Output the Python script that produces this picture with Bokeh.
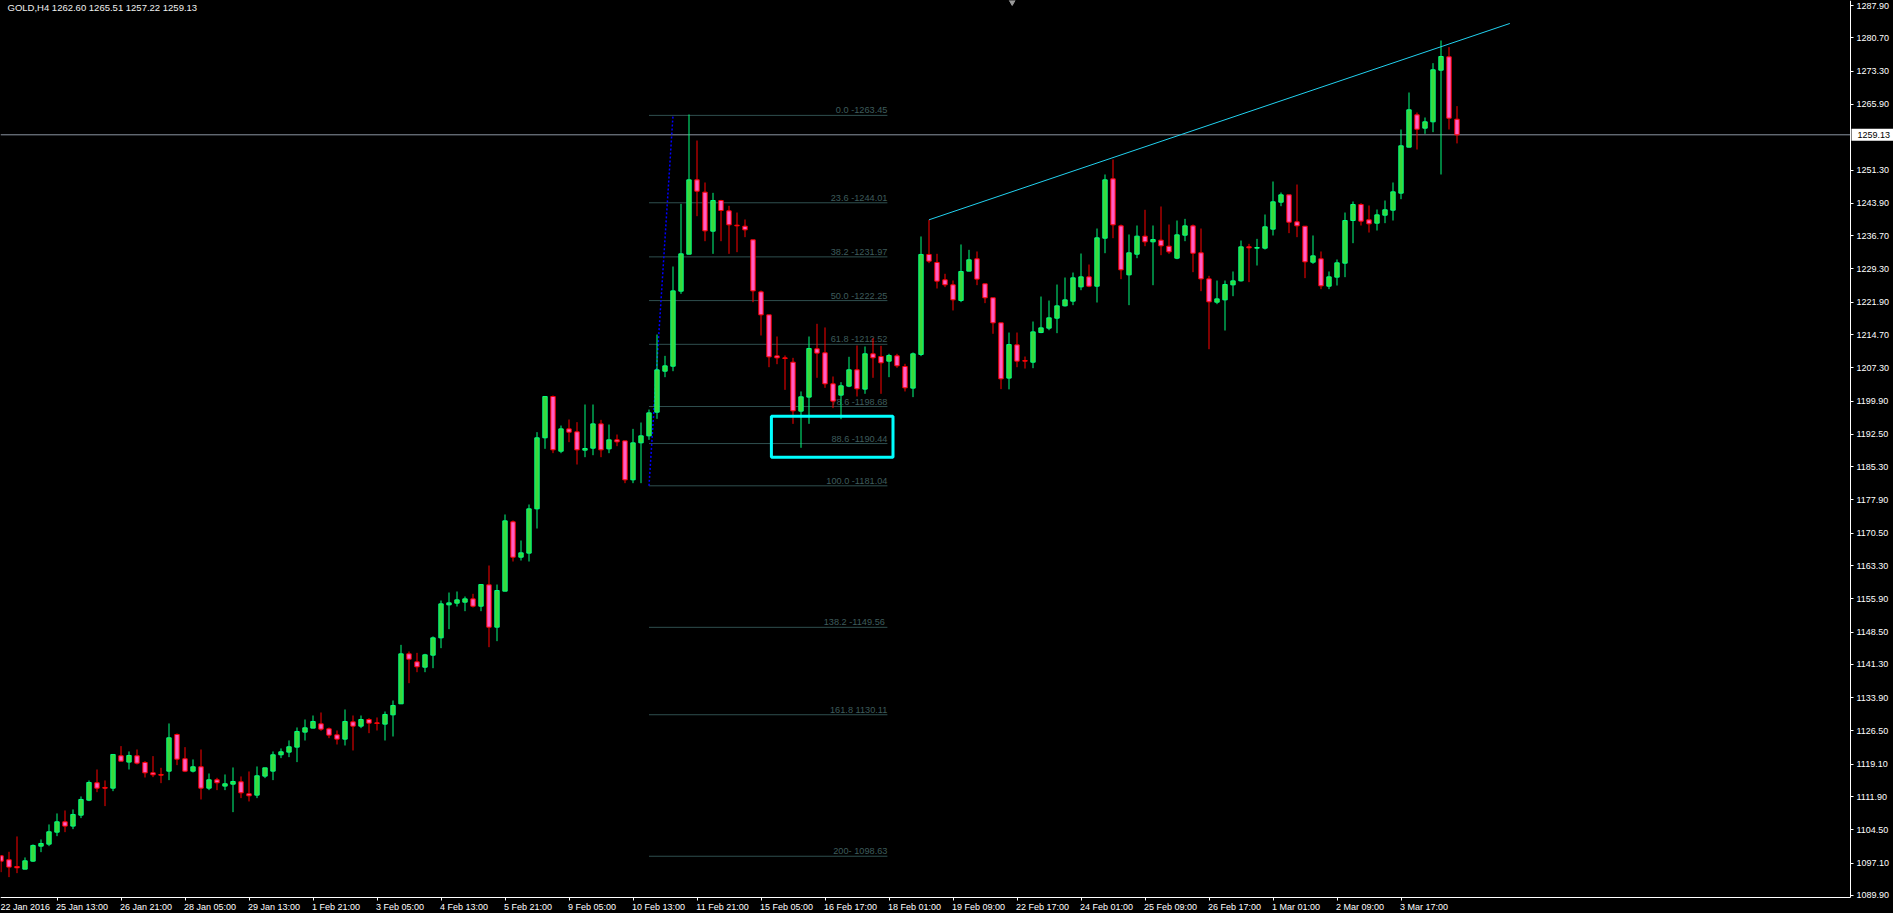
from bokeh.plotting import figure
from bokeh.models import (FixedTicker, NumeralTickFormatter, Label, Range1d, LinearAxis,
                          ColumnDataSource, GlobalInlineStyleSheet)
from bokeh.embed import file_html
from bokeh.resources import INLINE
from bokeh.core.properties import value

# ---------------- data (GOLD H4) ----------------
opens = [1098.73, 1097.84, 1096.35, 1095.76, 1097.54, 1100.88, 1101.32, 1103.99, 1106.29, 1105.33,
         1107.77, 1111.11, 1114.97, 1113.93, 1113.78, 1120.97, 1119.57, 1120.97, 1119.49, 1117.19,
         1116.82, 1117.56, 1125.72, 1120.31, 1117.56, 1118.53, 1113.78, 1115.63, 1114.23, 1114.67,
         1115.19, 1112.52, 1112.22, 1116.45, 1117.56, 1121.20, 1121.79, 1122.90, 1126.24, 1127.13,
         1128.09, 1126.98, 1125.64, 1124.68, 1128.53, 1127.57, 1129.05, 1128.31, 1128.02, 1130.09,
         1132.54, 1143.66, 1141.88, 1140.69, 1143.36, 1147.22, 1154.56, 1154.93, 1155.15, 1155.89,
         1154.26, 1159.01, 1149.59, 1157.60, 1173.03, 1165.16, 1166.06, 1175.92, 1191.72, 1200.91,
         1188.74, 1193.71, 1193.05, 1188.97, 1189.41, 1194.82, 1189.26, 1191.27, 1191.04, 1182.37,
         1190.60, 1192.16, 1197.42, 1206.54, 1207.65, 1224.34, 1232.57, 1249.11, 1246.37, 1237.69,
         1244.51, 1242.21, 1239.02, 1238.80, 1235.76, 1224.19, 1219.08, 1209.95, 1209.51, 1208.54,
         1197.65, 1200.77, 1211.52, 1210.63, 1203.73, 1201.21, 1203.21, 1206.85, 1202.55, 1210.41,
         1209.81, 1208.77, 1209.96, 1207.59, 1202.77, 1210.26, 1232.51, 1230.73, 1226.87, 1225.76,
         1222.27, 1228.80, 1231.54, 1225.98, 1222.87, 1217.30, 1205.00, 1212.40, 1208.92, 1208.54,
         1215.14, 1216.11, 1218.33, 1221.08, 1222.12, 1225.30, 1227.53, 1225.45, 1236.13, 1249.33,
         1238.87, 1227.97, 1232.57, 1236.58, 1235.32, 1235.69, 1234.35, 1231.68, 1236.80, 1238.87,
         1232.87, 1227.08, 1221.89, 1222.41, 1225.75, 1226.64, 1234.21, 1233.91, 1233.91, 1238.14,
         1244.14, 1245.77, 1239.77, 1238.80, 1230.79, 1231.54, 1225.45, 1227.46, 1230.57, 1240.06,
         1243.62, 1240.21, 1239.47, 1241.25, 1242.36, 1246.15, 1256.38, 1263.57, 1260.61, 1262.02,
         1273.51, 1276.48, 1262.60]
highs = [1098.90, 1099.62, 1103.03, 1098.36, 1101.25, 1102.36, 1105.70, 1108.15, 1108.81, 1109.04,
         1111.93, 1115.49, 1117.93, 1115.49, 1121.27, 1123.13, 1121.94, 1122.38, 1119.79, 1120.90,
         1118.30, 1128.17, 1125.94, 1122.90, 1120.16, 1122.38, 1117.04, 1116.08, 1116.82, 1118.38,
         1116.38, 1117.49, 1118.60, 1118.30, 1121.94, 1122.61, 1124.39, 1127.28, 1129.05, 1129.94,
         1130.61, 1127.27, 1126.61, 1131.28, 1129.94, 1129.94, 1129.35, 1129.50, 1130.83, 1133.28,
         1145.66, 1144.18, 1143.88, 1143.66, 1147.52, 1155.52, 1157.30, 1157.53, 1156.41, 1157.01,
         1159.08, 1163.31, 1159.08, 1174.66, 1173.32, 1168.87, 1176.88, 1192.98, 1200.91, 1201.13,
         1194.45, 1195.79, 1195.20, 1199.13, 1199.13, 1195.71, 1194.67, 1192.45, 1191.04, 1193.71,
         1195.12, 1198.01, 1214.70, 1209.95, 1229.83, 1243.77, 1263.65, 1257.86, 1248.52, 1246.22,
         1244.66, 1243.33, 1241.84, 1240.29, 1235.76, 1224.49, 1219.08, 1214.26, 1210.03, 1209.51,
         1202.03, 1214.26, 1217.08, 1216.27, 1205.36, 1204.10, 1209.74, 1212.26, 1212.04, 1213.89,
         1212.19, 1210.41, 1210.41, 1208.18, 1210.70, 1236.51, 1240.22, 1232.65, 1228.21, 1226.72,
         1234.73, 1233.54, 1233.17, 1225.98, 1222.87, 1217.30, 1215.14, 1215.14, 1209.80, 1217.59,
         1223.15, 1222.26, 1225.82, 1227.38, 1228.49, 1232.72, 1230.27, 1238.28, 1250.30, 1253.63,
         1239.17, 1236.95, 1238.95, 1242.44, 1238.95, 1243.18, 1239.17, 1240.06, 1240.43, 1239.17,
         1238.28, 1227.75, 1226.71, 1226.71, 1228.72, 1235.61, 1234.87, 1235.98, 1241.40, 1248.74,
         1246.29, 1245.77, 1248.07, 1238.80, 1236.73, 1233.17, 1228.72, 1231.39, 1241.84, 1244.29,
         1243.92, 1243.40, 1242.51, 1244.51, 1248.52, 1260.31, 1268.54, 1264.09, 1262.98, 1275.07,
         1280.11, 1278.63, 1265.51]
lows = [1095.09, 1093.98, 1094.87, 1095.76, 1097.39, 1099.54, 1100.88, 1103.10, 1103.99, 1104.66,
        1107.11, 1110.89, 1112.89, 1109.78, 1113.11, 1119.79, 1117.93, 1119.05, 1116.15, 1116.23,
        1114.89, 1115.56, 1118.90, 1117.34, 1117.27, 1111.26, 1113.34, 1113.34, 1113.34, 1108.44,
        1111.56, 1110.82, 1111.56, 1116.01, 1115.56, 1120.46, 1120.68, 1119.57, 1124.38, 1127.13,
        1126.53, 1124.90, 1123.49, 1123.27, 1122.16, 1127.13, 1126.01, 1126.61, 1124.38, 1125.27,
        1132.54, 1137.13, 1139.58, 1139.58, 1140.47, 1144.92, 1149.15, 1154.19, 1153.15, 1153.97,
        1153.15, 1145.14, 1146.48, 1157.60, 1164.20, 1164.42, 1164.20, 1171.54, 1189.27, 1188.31,
        1188.30, 1190.75, 1185.78, 1187.41, 1187.85, 1187.41, 1188.30, 1189.86, 1181.63, 1181.63,
        1181.63, 1191.27, 1195.94, 1205.21, 1206.54, 1223.75, 1232.57, 1241.03, 1235.46, 1232.65,
        1235.46, 1232.65, 1233.02, 1236.36, 1221.89, 1214.48, 1207.43, 1208.10, 1202.39, 1194.82,
        1189.50, 1194.83, 1205.07, 1202.84, 1198.32, 1195.87, 1202.99, 1200.91, 1201.51, 1205.07,
        1201.51, 1205.21, 1207.29, 1202.03, 1200.77, 1209.89, 1230.58, 1224.94, 1225.24, 1220.05,
        1221.90, 1228.80, 1225.68, 1221.68, 1214.86, 1202.55, 1202.50, 1207.43, 1207.13, 1207.21,
        1215.00, 1215.66, 1215.00, 1220.93, 1221.23, 1224.56, 1225.23, 1221.82, 1232.79, 1236.13,
        1227.01, 1221.23, 1231.68, 1234.35, 1225.67, 1232.35, 1232.65, 1231.46, 1235.46, 1228.57,
        1224.34, 1211.43, 1221.45, 1215.59, 1223.23, 1226.49, 1226.35, 1230.05, 1233.61, 1236.73,
        1243.25, 1237.25, 1236.36, 1227.24, 1230.42, 1224.79, 1224.79, 1225.60, 1227.46, 1235.02,
        1238.95, 1237.39, 1237.84, 1239.47, 1240.06, 1244.81, 1256.38, 1255.86, 1259.35, 1259.72,
        1250.30, 1260.31, 1257.22]
closes = [1097.54, 1096.21, 1096.06, 1097.61, 1101.03, 1101.47, 1104.07, 1106.29, 1105.33, 1107.92,
          1111.26, 1115.04, 1113.78, 1113.78, 1121.27, 1119.79, 1121.05, 1119.34, 1117.19, 1116.75,
          1116.67, 1124.98, 1120.23, 1117.56, 1118.53, 1113.78, 1115.63, 1114.97, 1114.75, 1115.26,
          1112.74, 1112.08, 1116.53, 1118.30, 1121.20, 1121.86, 1122.98, 1126.39, 1127.20, 1128.61,
          1126.90, 1125.57, 1124.68, 1128.61, 1127.57, 1129.05, 1128.24, 1128.16, 1130.17, 1132.17,
          1143.66, 1142.47, 1140.77, 1143.44, 1147.22, 1154.78, 1155.00, 1155.67, 1155.89, 1154.26,
          1159.08, 1149.59, 1157.75, 1173.25, 1165.16, 1166.13, 1175.92, 1191.72, 1200.91, 1189.05,
          1193.71, 1192.97, 1189.04, 1189.34, 1194.82, 1189.04, 1191.27, 1190.82, 1182.37, 1190.60,
          1192.16, 1197.27, 1206.84, 1207.73, 1224.41, 1232.65, 1249.11, 1246.59, 1237.76, 1244.51,
          1242.29, 1239.10, 1238.88, 1237.99, 1224.41, 1219.08, 1209.73, 1209.51, 1209.36, 1197.72,
          1200.84, 1211.59, 1210.56, 1203.73, 1199.88, 1203.29, 1206.85, 1202.62, 1210.41, 1209.52,
          1208.40, 1210.04, 1207.74, 1202.84, 1210.41, 1232.51, 1231.02, 1226.57, 1225.76, 1222.42,
          1228.72, 1231.32, 1227.02, 1222.87, 1217.30, 1204.84, 1212.47, 1208.77, 1208.77, 1215.29,
          1216.18, 1218.41, 1221.08, 1222.41, 1227.31, 1227.53, 1225.45, 1236.21, 1249.11, 1239.10,
          1229.09, 1232.87, 1236.58, 1235.32, 1235.83, 1234.43, 1233.09, 1236.87, 1238.87, 1232.79,
          1227.08, 1221.97, 1222.63, 1225.82, 1226.64, 1234.20, 1233.98, 1234.06, 1238.66, 1244.22,
          1245.77, 1239.69, 1238.88, 1230.87, 1232.20, 1225.53, 1227.53, 1230.65, 1240.06, 1243.62,
          1239.92, 1239.32, 1241.32, 1242.44, 1246.44, 1256.68, 1264.69, 1260.38, 1262.02, 1273.60,
          1276.55, 1262.83, 1259.13]
bar_index = list(range(len(opens)))

time_tick_bars = [-1, 7, 15, 23, 31, 39, 47, 55, 63, 71, 79, 87, 95, 103, 111, 119, 127, 135,
                  143, 151, 159, 167, 175]
time_tick_labels = ["22 Jan 2016", "25 Jan 13:00", "26 Jan 21:00", "28 Jan 05:00", "29 Jan 13:00",
                    "1 Feb 21:00", "3 Feb 05:00", "4 Feb 13:00", "5 Feb 21:00", "9 Feb 05:00",
                    "10 Feb 13:00", "11 Feb 21:00", "15 Feb 05:00", "16 Feb 17:00", "18 Feb 01:00",
                    "19 Feb 09:00", "22 Feb 17:00", "24 Feb 01:00", "25 Feb 09:00", "26 Feb 17:00",
                    "1 Mar 01:00", "2 Mar 09:00", "3 Mar 17:00"]
price_ticks = [1287.90, 1280.70, 1273.30, 1265.90, 1251.30, 1243.90, 1236.70, 1229.30, 1221.90,
               1214.70, 1207.30, 1199.90, 1192.50, 1185.30, 1177.90, 1170.50, 1163.30, 1155.90,
               1148.50, 1141.30, 1133.90, 1126.50, 1119.10, 1111.90, 1104.50, 1097.10, 1089.90]

header_text = "GOLD,H4  1262.60 1265.51 1257.22 1259.13"
last_price = 1259.13
chart_shift_bar = 126.4

fib_prices = [1263.45, 1244.01, 1231.97, 1222.25, 1212.52, 1198.68, 1190.44, 1181.04,
              1149.56, 1130.11, 1098.63]
fib_labels = ["0.0 -1263.45", "23.6 -1244.01", "38.2 -1231.97", "50.0 -1222.25", "61.8 -1212.52",
              "78.6 -1198.68", "88.6 -1190.44", "100.0 -1181.04", "138.2  -1149.56",
              "161.8 1130.11", "200- 1098.63"]
fib_bar_start, fib_bar_end = 81, 110.8
fib_anchor_bars = [81, 84]
fib_anchor_prices = [1181.04, 1263.45]

trend_bars = [116, 188.6]
trend_prices = [1240.22, 1283.9]

box_bars = [96.3, 111.5]
box_prices = [1187.4, 1196.5]

# ---------------- geometry ----------------
W, H = 1893, 913
AXIS_PX_X, AXIS_PX_Y = 1850, 897          # where the price / time axes are drawn
PX_PER_BAR = 8.0
PX_PER_USD = 4.4949
X0 = -0.0625
X1 = X0 + W / PX_PER_BAR
Y_TOP = 1289.01
Y_BOTTOM = Y_TOP - H / PX_PER_USD
YAXIS_X = X0 + AXIS_PX_X / PX_PER_BAR
XAXIS_Y = Y_TOP - AXIS_PX_Y / PX_PER_USD

FONT = "Liberation Sans"
AXIS_FONT_PX = 9.0
# Arial/Liberation advance widths (em) for label placement
_EM = {":": 0.278, " ": 0.278, "J": 0.5, "a": 0.556, "n": 0.556, "F": 0.611, "e": 0.556,
       "b": 0.556, "M": 0.833, "r": 0.333}


def text_px(s, size):
    return sum(_EM.get(ch, 0.556) for ch in s) * size


p = figure(width=W, height=H, x_range=Range1d(X0, X1), y_range=Range1d(Y_BOTTOM, Y_TOP),
           output_backend="svg", toolbar_location=None, y_axis_location="right",
           background_fill_color="black", border_fill_color="black", outline_line_color=None,
           min_border_left=0, min_border_top=0, min_border_right=0, min_border_bottom=0)
p.grid.visible = False
p.stylesheets = [GlobalInlineStyleSheet(css="html, body { background-color: #000000; }")]

# time axis: line + tick marks
xa = p.xaxis[0]
xa.fixed_location = XAXIS_Y
xa.bounds = (X0, YAXIS_X)
xa.ticker = FixedTicker(ticks=time_tick_bars)
xa.major_label_overrides = {b: "" for b in time_tick_bars}
xa.major_label_text_font_size = "1px"
xa.major_label_standoff = 0

# time axis: labels, left-aligned at their tick like MetaTrader draws them
label_centres = [round(b + (text_px(t, AXIS_FONT_PX) / 2 - 1) / PX_PER_BAR, 4)
                 for b, t in zip(time_tick_bars, time_tick_labels)]
xb = LinearAxis(fixed_location=XAXIS_Y, ticker=FixedTicker(ticks=label_centres),
                major_label_overrides={c: t for c, t in zip(label_centres, time_tick_labels)},
                axis_line_color=None, major_tick_line_color=None, minor_tick_line_color=None,
                major_tick_in=0, major_tick_out=0, major_label_standoff=4)
p.add_layout(xb, "below")

ya = p.yaxis[0]
ya.fixed_location = YAXIS_X
ya.bounds = (XAXIS_Y, Y_TOP)
ya.ticker = FixedTicker(ticks=price_ticks)
ya.formatter = NumeralTickFormatter(format="0.00")
ya.major_label_standoff = 3

for ax in (xa, xb, ya):
    ax.axis_label = None
    ax.minor_tick_line_color = None
    ax.major_label_text_color = "white"
    ax.major_label_text_font = FONT
for ax in (xb, ya):
    ax.major_label_text_font_size = "%.1fpx" % AXIS_FONT_PX
for ax in (xa, ya):
    ax.axis_line_color = "white"
    ax.major_tick_line_color = "white"
    ax.major_tick_in = 0
    ax.major_tick_out = 3

# candles
bull = [c >= o for o, c in zip(opens, closes)]
src = ColumnDataSource(dict(
    x=bar_index, o=opens, h=highs, l=lows, c=closes,
    top=[max(o, c) for o, c in zip(opens, closes)],
    bottom=[min(o, c) for o, c in zip(opens, closes)],
    fill=["#3BD83B" if b else "#FF5CC6" for b in bull],
    line=["#00FF7F" if b else "#FF0000" for b in bull],
))

# current price line
p.segment(x0=[X0], y0=[last_price], x1=[YAXIS_X], y1=[last_price],
          line_color="#8A94A2", line_width=1)

# fibonacci
p.segment(x0=[fib_bar_start] * len(fib_prices), y0=fib_prices,
          x1=[fib_bar_end] * len(fib_prices), y1=fib_prices,
          line_color="#2F4F4F", line_width=1)
p.text(x=[fib_bar_end] * len(fib_prices), y=fib_prices, text=fib_labels,
       text_align="right", text_baseline="bottom", text_font=value(FONT),
       text_font_size="9.2px", text_color="#3E5C5C")
p.line(fib_anchor_bars, fib_anchor_prices, line_color="#0000FF", line_width=1.5, line_dash="2 2")

p.segment(x0="x", y0="l", x1="x", y1="h", line_color="line", line_width=1, source=src)
p.vbar(x="x", width=0.55, top="top", bottom="bottom", fill_color="fill",
       line_color="line", line_width=1, source=src)

# trend line and box
p.line(trend_bars, trend_prices, line_color="#22D2F0", line_width=1)
p.quad(left=[box_bars[0]], right=[box_bars[1]], bottom=[box_prices[0]], top=[box_prices[1]],
       fill_alpha=0, line_color="#00FFFF", line_width=3)

# chart-shift marker at the top edge
p.scatter(x=[chart_shift_bar], y=[Y_TOP - 1.5 / PX_PER_USD], marker="inverted_triangle",
          size=6, fill_color="#9A9A9A", line_color="#9A9A9A")

# last-price tag on the price axis
half_h = 6.0 / PX_PER_USD
p.quad(left=[YAXIS_X + 1.0 / PX_PER_BAR], right=[X1], bottom=[last_price - half_h],
       top=[last_price + half_h], fill_color="white", line_color=None)
p.text(x=[YAXIS_X + 7.0 / PX_PER_BAR], y=[last_price], text=["%.2f" % last_price],
       text_align="left", text_baseline="middle", text_font=value(FONT),
       text_font_size="%.1fpx" % AXIS_FONT_PX, text_color="black")

# header
p.add_layout(Label(x=X0, y=Y_TOP, x_offset=7, y_offset=-1, text=header_text, text_baseline="top",
                   text_color="#F0F0F0", text_font=FONT, text_font_size="9.5px"))

open("out.html", "w").write(file_html(p, INLINE))
